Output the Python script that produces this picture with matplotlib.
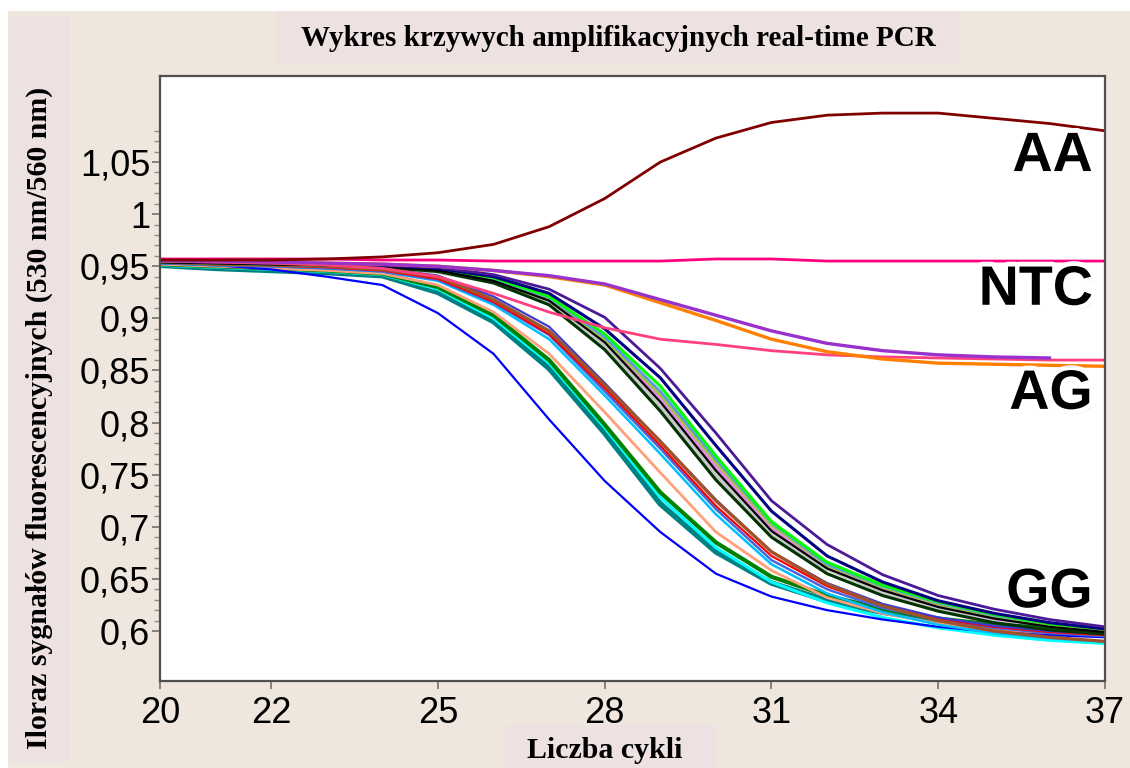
import matplotlib
matplotlib.use("Agg")
import matplotlib.pyplot as plt
import matplotlib.patheffects as pe
from matplotlib.patches import Rectangle
from matplotlib.ticker import FixedLocator

cycles = list(range(20, 38))

# AA
aa = [0.956, 0.956, 0.956, 0.957, 0.959, 0.963, 0.971, 0.988, 1.015, 1.050, 1.073, 1.088, 1.095, 1.097, 1.097, 1.092, 1.087, 1.080]
# NTC
ntc = [0.957, 0.957, 0.957, 0.957, 0.956, 0.956, 0.955, 0.955, 0.955, 0.955, 0.957, 0.957, 0.955, 0.955, 0.955, 0.955, 0.955, 0.955]
# AG
ag_orange = [0.955, 0.955, 0.954, 0.953, 0.952, 0.950, 0.946, 0.940, 0.932, 0.915, 0.898, 0.880, 0.868, 0.861, 0.857, 0.856, 0.855, 0.854]
ag_purple = [0.955, 0.955, 0.954, 0.953, 0.952, 0.950, 0.946, 0.941, 0.933, 0.918, 0.903, 0.888, 0.876, 0.869, 0.865, 0.863, 0.862]
ag_pink = [0.955, 0.954, 0.953, 0.951, 0.948, 0.940, 0.924, 0.906, 0.891, 0.880, 0.875, 0.869, 0.865, 0.863, 0.862, 0.861, 0.860, 0.860]
# GG
gg_blue = [0.953, 0.951, 0.947, 0.940, 0.932, 0.905, 0.866, 0.803, 0.744, 0.695, 0.655, 0.633, 0.620, 0.611, 0.604, 0.599, 0.596, 0.594]
gg_teal = [0.951, 0.948, 0.946, 0.944, 0.941, 0.925, 0.897, 0.852, 0.790, 0.722, 0.676, 0.646, 0.629, 0.618, 0.610, 0.605, 0.601, 0.598]
gg_cyan = [0.951, 0.949, 0.947, 0.945, 0.942, 0.928, 0.900, 0.857, 0.795, 0.728, 0.680, 0.647, 0.627, 0.613, 0.603, 0.596, 0.591, 0.588]
gg_green = [0.952, 0.950, 0.948, 0.946, 0.943, 0.930, 0.903, 0.860, 0.798, 0.733, 0.685, 0.652, 0.634, 0.621, 0.612, 0.606, 0.603, 0.601]
gg_salmon = [0.952, 0.950, 0.948, 0.946, 0.943, 0.932, 0.906, 0.866, 0.810, 0.752, 0.695, 0.658, 0.632, 0.617, 0.607, 0.601, 0.598, 0.596]
gg_sienna = [0.954, 0.952, 0.951, 0.950, 0.947, 0.940, 0.918, 0.888, 0.836, 0.782, 0.725, 0.676, 0.645, 0.624, 0.610, 0.600, 0.594, 0.590]
gg_red = [0.954, 0.952, 0.951, 0.949, 0.946, 0.938, 0.916, 0.885, 0.833, 0.778, 0.720, 0.672, 0.643, 0.624, 0.612, 0.604, 0.599, 0.596]
gg_royal = [0.953, 0.951, 0.950, 0.948, 0.945, 0.937, 0.915, 0.884, 0.830, 0.775, 0.717, 0.668, 0.640, 0.622, 0.611, 0.603, 0.598, 0.595]
gg_sky = [0.953, 0.951, 0.950, 0.948, 0.945, 0.936, 0.913, 0.880, 0.826, 0.770, 0.712, 0.664, 0.636, 0.618, 0.606, 0.598, 0.593, 0.590]
gg_slate = [0.955, 0.954, 0.953, 0.951, 0.948, 0.941, 0.921, 0.892, 0.838, 0.782, 0.726, 0.676, 0.646, 0.626, 0.613, 0.605, 0.600, 0.597]
gg_darkgreen = [0.954, 0.953, 0.952, 0.951, 0.949, 0.945, 0.934, 0.913, 0.870, 0.811, 0.745, 0.690, 0.655, 0.634, 0.619, 0.608, 0.601, 0.597]
gg_gray = [0.954, 0.953, 0.952, 0.951, 0.950, 0.946, 0.936, 0.916, 0.874, 0.816, 0.752, 0.695, 0.661, 0.639, 0.623, 0.612, 0.605, 0.600]
gg_black = [0.954, 0.953, 0.952, 0.951, 0.950, 0.946, 0.936, 0.917, 0.877, 0.820, 0.754, 0.696, 0.660, 0.639, 0.623, 0.612, 0.604, 0.599]
gg_violet = [0.954, 0.953, 0.952, 0.951, 0.950, 0.946, 0.937, 0.918, 0.879, 0.824, 0.758, 0.699, 0.661, 0.640, 0.624, 0.612, 0.605, 0.600]
gg_yellowgreen = [0.954, 0.953, 0.952, 0.951, 0.950, 0.947, 0.938, 0.919, 0.880, 0.827, 0.762, 0.702, 0.663, 0.642, 0.626, 0.614, 0.606, 0.601]
gg_cornflower = [0.955, 0.954, 0.953, 0.952, 0.951, 0.947, 0.938, 0.920, 0.882, 0.830, 0.765, 0.704, 0.664, 0.643, 0.627, 0.615, 0.607, 0.602]
gg_lime = [0.955, 0.954, 0.953, 0.952, 0.951, 0.947, 0.939, 0.921, 0.885, 0.835, 0.768, 0.705, 0.666, 0.644, 0.628, 0.616, 0.607, 0.602]
gg_navy = [0.955, 0.954, 0.953, 0.952, 0.951, 0.948, 0.940, 0.924, 0.890, 0.843, 0.778, 0.715, 0.672, 0.647, 0.629, 0.617, 0.608, 0.602]
gg_indigo = [0.955, 0.954, 0.953, 0.952, 0.951, 0.949, 0.942, 0.928, 0.901, 0.852, 0.790, 0.725, 0.683, 0.654, 0.634, 0.621, 0.611, 0.604]

x_ticks = [20, 22, 25, 28, 31, 34, 37]
y_ticks = [0.6, 0.65, 0.7, 0.75, 0.8, 0.85, 0.9, 0.95, 1.0, 1.05]

beige = "#efe7de"
pink_box = "#ede1e2"

fig = plt.figure(figsize=(11.3, 7.68), dpi=100, facecolor="white")
fig.patches.append(Rectangle((8 / 1130, 0), 1, 1 - 11 / 768, transform=fig.transFigure,
                             facecolor=beige, edgecolor="none", zorder=-3))
fig.patches.append(Rectangle((277 / 1130, 1 - 65 / 768), 682 / 1130, 54 / 768, transform=fig.transFigure,
                             facecolor=pink_box, edgecolor="none", zorder=-2))
fig.patches.append(Rectangle((9 / 1130, 1 - 762 / 768), 61 / 1130, 746 / 768, transform=fig.transFigure,
                             facecolor=pink_box, edgecolor="none", zorder=-2))
fig.patches.append(Rectangle((505 / 1130, 0), 210 / 1130, 43 / 768, transform=fig.transFigure,
                             facecolor=pink_box, edgecolor="none", zorder=-2))

ax = fig.add_axes([160 / 1130, 1 - 681 / 768, 945 / 1130, 605 / 768])
ax.set_facecolor("white")

gg = [
    (gg_gray, "#c8c8c8", 5.0),
    (gg_teal, "#008080", 4.0),
    (gg_cyan, "#00ffff", 2.2),
    (gg_green, "#008000", 3.0),
    (gg_salmon, "#ffa07a", 2.0),
    (gg_blue, "#0000ff", 1.6),
    (gg_sky, "#00bfff", 1.8),
    (gg_royal, "#4169e1", 1.8),
    (gg_red, "#ff0000", 1.6),
    (gg_slate, "#3c3cd0", 1.6),
    (gg_sienna, "#a0522d", 2.4),
    (gg_violet, "#ee82ee", 2.0),
    (gg_yellowgreen, "#9acd32", 2.2),
    (gg_cornflower, "#6495ed", 2.0),
    (gg_lime, "#00ff00", 2.2),
    (gg_darkgreen, "#003300", 2.2),
    (gg_black, "#000000", 1.6),
    (gg_navy, "#000080", 2.2),
    (gg_indigo, "#4b1a96", 2.0),
]
for vals, col, lw in gg:
    ax.plot(cycles[:len(vals)], vals, color=col, lw=lw)

ax.plot(cycles[:len(ag_pink)], ag_pink, color="#ff4080", lw=2.0)
ax.plot(cycles[:len(ag_orange)], ag_orange, color="#ff8000", lw=2.4)
ax.plot(cycles[:len(ag_purple)], ag_purple, color="#9932cc", lw=2.4)
ax.plot(cycles, ntc, color="#ff0080", lw=2.0)
ax.plot(cycles, aa, color="#800000", lw=2.0)

ax.set_xlim(20, 37)
ax.set_ylim(0.552, 1.1326)

ax.xaxis.set_major_locator(FixedLocator(x_ticks))
ax.set_xticklabels([str(t) for t in x_ticks])
ax.yaxis.set_major_locator(FixedLocator(y_ticks))
ax.set_yticklabels([f"{v:g}".replace(".", ",") for v in y_ticks])
ax.yaxis.set_minor_locator(FixedLocator([0.6 + 0.01 * i for i in range(49)]))

ax.tick_params(axis="both", which="major", direction="out", length=6, width=1.2,
               color="#707070", labelsize=26, labelcolor="black")
ax.tick_params(axis="x", pad=5)
ax.tick_params(axis="y", pad=1)
ax.tick_params(axis="y", which="minor", direction="out", length=4, width=1.0, color="#909090")
for lab in ax.get_xticklabels() + ax.get_yticklabels():
    lab.set_family("Liberation Sans")

for s in ax.spines.values():
    s.set_color("#505050")
    s.set_linewidth(1.6)

fx = [pe.SimplePatchShadow(offset=(2, -3), shadow_rgbFace="#808080", alpha=0.45),
      pe.Stroke(linewidth=7, foreground="white"), pe.Normal()]
for txt, yf in [("AA", 0.866), ("NTC", 0.645), ("AG", 0.473), ("GG", 0.145)]:
    ax.text(0.987, yf, txt, transform=ax.transAxes, ha="right", va="center",
            fontsize=40, fontweight="bold", family="Liberation Sans",
            color="black", path_effects=fx, zorder=10)

serif = "Liberation Serif"
fig.text(618 / 1130, 1 - 38 / 768, "Wykres krzywych amplifikacyjnych real-time PCR",
         ha="center", va="center", fontsize=21, fontweight="bold", family=serif, zorder=3)
fig.text(39 / 1130, 1 - 418 / 768, "Iloraz sygnałów fluorescencyjnych (530 nm/560 nm)",
         ha="center", va="center", rotation=90, fontsize=21.5, fontweight="bold", family=serif, zorder=3)
fig.text(605 / 1130, 1 - 751 / 768, "Liczba cykli",
         ha="center", va="center", fontsize=21.5, fontweight="bold", family=serif, zorder=3)

fig.savefig("out.png", dpi=100, facecolor=fig.get_facecolor())
